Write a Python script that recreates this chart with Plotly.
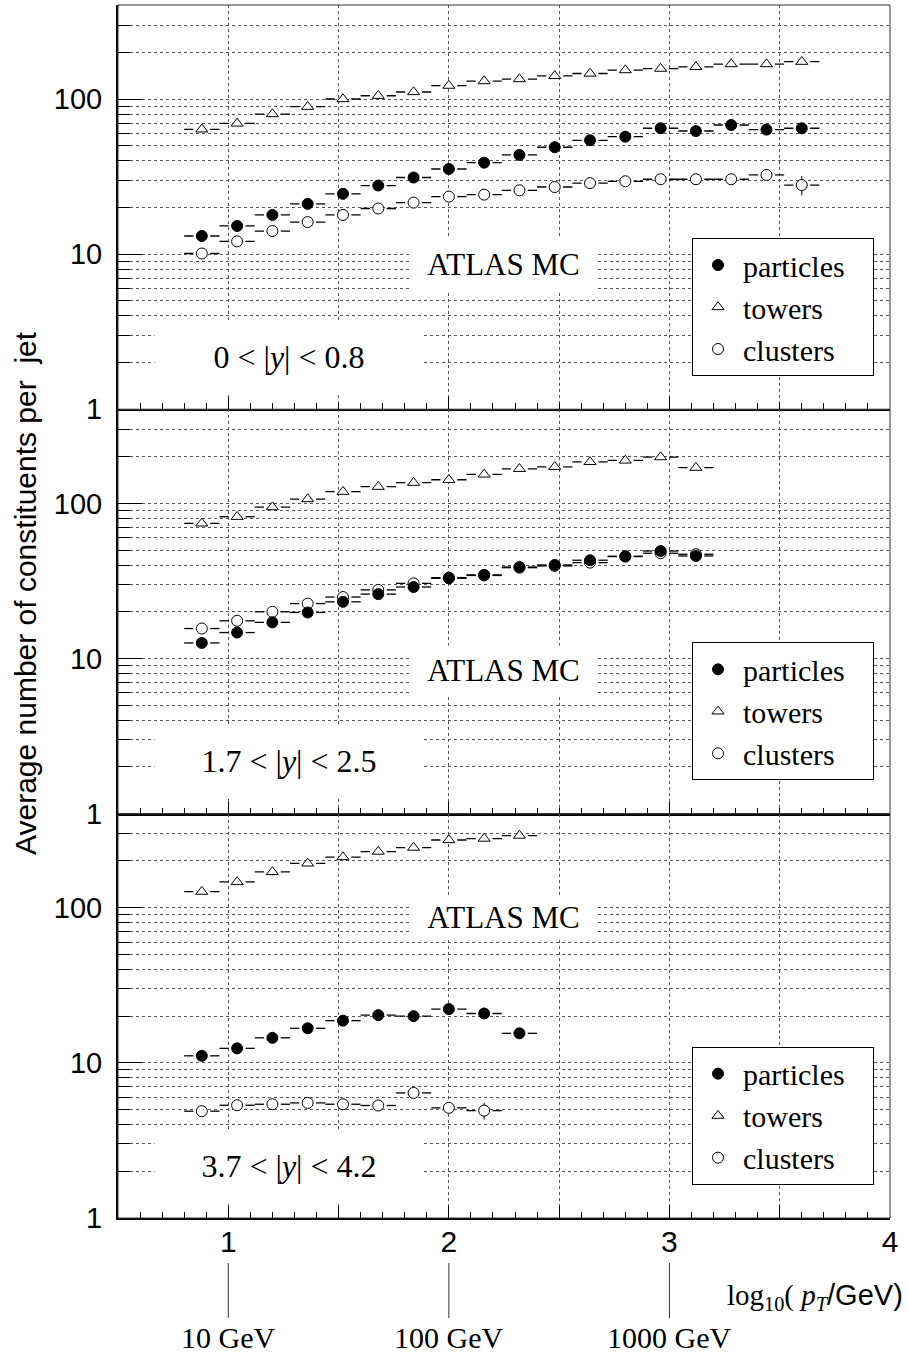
import numpy as np
import plotly.graph_objects as go
from plotly.subplots import make_subplots

# ---------------- data ----------------
LOG_PT = [0.88, 1.04, 1.20, 1.36, 1.52, 1.68, 1.84, 2.00, 2.16,
          2.32, 2.48, 2.64, 2.80, 2.96, 3.12, 3.28, 3.44, 3.60]
BIN_HALF = 0.08

# panel 1 : 0 < |y| < 0.8
P1_PARTICLES = [13.1, 15.2, 17.9, 21.1, 24.5, 27.7, 31.2, 35.4, 38.9,
                43.6, 48.9, 54.2, 57.2, 64.8, 62.2, 68.0, 63.5, 64.8]
P1_TOWERS = [63.8, 69.6, 80.0, 89.2, 100.0, 105.0, 111.0, 122.0, 130.6,
             134.5, 141.0, 146.0, 153.6, 157.0, 161.0, 168.0, 168.0, 174.0]
P1_CLUSTERS = [10.1, 12.1, 14.1, 16.1, 17.9, 19.7, 21.5, 23.5, 24.2,
               25.8, 27.1, 28.7, 29.5, 30.4, 30.4, 30.4, 32.4, 27.9]
P1_CLUSTERS_ERR = [0, 0, 0, 0, 0, 0, 0, 0, 0, 0, 0, 0, 0, 0, 0, 0, 0, 4.0]

# panel 2 : 1.7 < |y| < 2.5
P2_PARTICLES = [12.6, 14.7, 17.1, 19.8, 23.2, 26.0, 28.9, 32.9, 34.6,
                38.9, 40.1, 43.0, 45.6, 49.3, 45.8]
P2_TOWERS = [74.3, 82.0, 94.6, 106.6, 118.9, 128.0, 135.9, 141.9, 153.6,
             167.0, 172.0, 185.0, 189.0, 198.7, 169.8]
P2_CLUSTERS = [15.6, 17.5, 20.0, 22.6, 24.9, 27.7, 30.5, 33.2, 34.3,
               38.5, 39.5, 41.5, 45.4, 47.7, 47.0]

# panel 3 : 3.7 < |y| < 4.2
P3_PARTICLES = [11.1, 12.4, 14.5, 16.7, 18.7, 20.3, 20.0, 22.2, 20.8, 15.5]
P3_PARTICLES_ERR = [0, 0, 0, 0, 0, 0, 0, 0, 0, 1.0]
P3_TOWERS = [126.9, 146.5, 170.0, 193.0, 212.0, 230.0, 244.0, 273.0, 279.0, 291.6]
P3_CLUSTERS = [4.88, 5.33, 5.41, 5.52, 5.41, 5.31, 6.40, 5.13, 4.92]
P3_CLUSTERS_ERR = [0, 0, 0, 0, 0, 0, 0, 0, 0.6]

RAP_LABELS = ["0 < |<i>y</i>| < 0.8", "1.7 < |<i>y</i>| < 2.5", "3.7 < |<i>y</i>| < 4.2"]
SERIES_NAMES = ["particles", "towers", "clusters"]
Y_TICKS = [1, 10, 100]
Y_MINOR = [2, 3, 4, 5, 6, 7, 8, 9, 20, 30, 40, 50, 60, 70, 80, 90, 200, 300, 400]
X_TICKS = [0.5, 1.0, 1.5, 2.0, 2.5, 3.0, 3.5, 4.0]
X_TICKTEXT = ["", "1", "", "2", "", "3", "", "4"]
GEV_LABELS = [10, 100, 1000]

# ---------------- style ----------------
SERIF = "Liberation Serif"
SANS = "Liberation Sans"
W, H = 908, 1357
ML, MR, MT, MB = 118, 18, 5, 139
PW, PH = W - ML - MR, H - MT - MB
PANEL_H = PH / 3.0
GAP = 0.038
NB = "\u00a0"


def py2paper(py):
    return 1 - (py - MT) / PH


def px2paper(px):
    return (px - ML) / PW


def hbars(xs, ys):
    sx, sy = [], []
    for x, y in zip(xs, ys):
        sx += [x - BIN_HALF, x - GAP, None, x + GAP, x + BIN_HALF, None]
        sy += [y, y, None, y, y, None]
    return sx, sy


fig = make_subplots(rows=3, cols=1, vertical_spacing=0)

panels = [
    (P1_PARTICLES, None, P1_TOWERS, P1_CLUSTERS, P1_CLUSTERS_ERR),
    (P2_PARTICLES, None, P2_TOWERS, P2_CLUSTERS, None),
    (P3_PARTICLES, P3_PARTICLES_ERR, P3_TOWERS, P3_CLUSTERS, P3_CLUSTERS_ERR),
]


def err(e):
    if e is None:
        return None
    return dict(type="data", array=e, visible=True, width=0,
                thickness=1, color="black")


for r, (part, part_err, tow, clu, clu_err) in enumerate(panels, start=1):
    lg = "legend" if r == 1 else f"legend{r}"
    # horizontal bin-width bars
    for vals in (clu, tow, part):
        xs = LOG_PT[:len(vals)]
        sx, sy = hbars(xs, vals)
        fig.add_trace(go.Scatter(x=sx, y=sy, mode="lines",
                                 line=dict(color="black", width=1.3),
                                 showlegend=False, hoverinfo="skip"), row=r, col=1)

    fig.add_trace(go.Scatter(
        x=LOG_PT[:len(clu)], y=clu, mode="markers", name=SERIES_NAMES[2],
        marker=dict(symbol="circle", size=11, color="white",
                    line=dict(color="black", width=1)),
        error_y=err(clu_err), legend=lg), row=r, col=1)
    fig.add_trace(go.Scatter(
        x=LOG_PT[:len(tow)], y=tow, mode="markers", name=SERIES_NAMES[1],
        marker=dict(symbol="triangle-up", size=10.5, color="white",
                    line=dict(color="black", width=1)),
        legend=lg), row=r, col=1)
    fig.add_trace(go.Scatter(
        x=LOG_PT[:len(part)], y=part, mode="markers",
        name=SERIES_NAMES[0] + NB * 3,
        marker=dict(symbol="circle", size=11, color="black",
                    line=dict(color="black", width=1)),
        error_y=err(part_err), legend=lg), row=r, col=1)

    panel_top = MT + (r - 1) * PANEL_H

    # legend box
    fig.update_layout({lg: dict(
        x=px2paper(874), xanchor="right",
        y=py2paper(panel_top + 233), yanchor="top",
        bgcolor="white", bordercolor="black", borderwidth=1,
        font=dict(family=SERIF, size=30, color="black"),
        traceorder="reversed", itemsizing="trace", itemwidth=40)})

    # ATLAS MC box
    atlas_c = {1: 259, 2: 261, 3: 104}[r]
    atlas_h = {1: 52, 2: 48, 3: 41}[r]
    fig.add_annotation(text="ATLAS MC", xref="paper", yref="paper",
                       x=px2paper(503.5), y=py2paper(panel_top + atlas_c),
                       xanchor="center", yanchor="middle", showarrow=False,
                       width=187, height=atlas_h, bgcolor="white", borderpad=0,
                       font=dict(family=SERIF, size=31, color="black"))
    # rapidity label box
    fig.add_annotation(text=RAP_LABELS[r - 1], xref="paper", yref="paper",
                       x=px2paper(289), y=py2paper(panel_top + 352),
                       xanchor="center", yanchor="middle", showarrow=False,
                       width=268, height=70, bgcolor="white", borderpad=0,
                       font=dict(family=SERIF, size=32, color="black"))

    # frame (thin top/right)
    xd = "x domain" if r == 1 else f"x{r} domain"
    yd = "y domain" if r == 1 else f"y{r} domain"
    fig.add_shape(type="rect", xref=xd, yref=yd, x0=0, x1=1, y0=0, y1=1,
                  line=dict(color="#333333", width=1), layer="above")

    fig.update_yaxes(
        type="log", range=[0, 2.606], row=r, col=1,
        tickmode="array", tickvals=Y_TICKS, ticktext=[str(v) for v in Y_TICKS],
        ticks="inside", ticklen=24, tickwidth=1, tickcolor="black",
        showline=True, linewidth=2, linecolor="black", mirror=False,
        showgrid=True, gridcolor="#555555", griddash="dot", gridwidth=1,
        zeroline=False, ticklabelstandoff=8,
        tickfont=dict(family=SANS, size=29, color="black"),
        minor=dict(tickmode="array", tickvals=Y_MINOR, ticks="inside",
                   ticklen=12, tickwidth=1, tickcolor="black", showgrid=True,
                   gridcolor="#555555", griddash="dot", gridwidth=1))
    fig.update_xaxes(
        range=[0.5, 4.0], row=r, col=1,
        tickmode="array", tickvals=X_TICKS, ticktext=X_TICKTEXT,
        showticklabels=(r == 3),
        ticks="inside", ticklen=12, tickwidth=1, tickcolor="black",
        showline=True, linewidth=2, linecolor="black", mirror=False,
        showgrid=True, gridcolor="#555555", griddash="dot", gridwidth=1,
        zeroline=False, ticklabelstandoff=-4,
        tickfont=dict(family=SANS, size=30, color="black"),
        minor=dict(dtick=0.1, tick0=0.5, ticks="inside", ticklen=6,
                   tickwidth=1, tickcolor="black", showgrid=False))

# y-axis title
fig.add_annotation(text="Average number of constituents per" + NB + " jet",
                   xref="paper", yref="paper", x=px2paper(25), y=py2paper(593),
                   xanchor="center", yanchor="middle", textangle=-90,
                   showarrow=False, font=dict(family=SANS, size=30, color="black"))

# x-axis title
fig.add_annotation(
    text=("log<sub>10</sub>( <i>p</i><sub><i>T</i></sub>"
          f"<span style=\"font-family:{SANS}\">/GeV)</span>"),
    xref="paper", yref="paper", x=px2paper(905), y=py2paper(1297),
    xanchor="right", yanchor="middle", showarrow=False,
    font=dict(family=SERIF, size=29, color="black"))

# GeV scale below the axis
for g in GEV_LABELS:
    pos = float(np.log10(g))
    fig.add_shape(type="line", xref="x3", yref="paper", x0=pos, x1=pos,
                  y0=py2paper(1263), y1=py2paper(1318),
                  line=dict(color="#333333", width=1))
    fig.add_annotation(text=f"{g} GeV", xref="x3", yref="paper", x=pos,
                       y=py2paper(1337), xanchor="center", yanchor="middle",
                       showarrow=False,
                       font=dict(family=SERIF, size=30, color="black"))

fig.update_layout(width=W, height=H, margin=dict(l=ML, r=MR, t=MT, b=MB),
                  plot_bgcolor="white", paper_bgcolor="white",
                  showlegend=True)

fig.write_html("out.html", config={"displayModeBar": False},
               post_script="document.body.style.margin='0px';"
                           "document.body.style.padding='0px';")
